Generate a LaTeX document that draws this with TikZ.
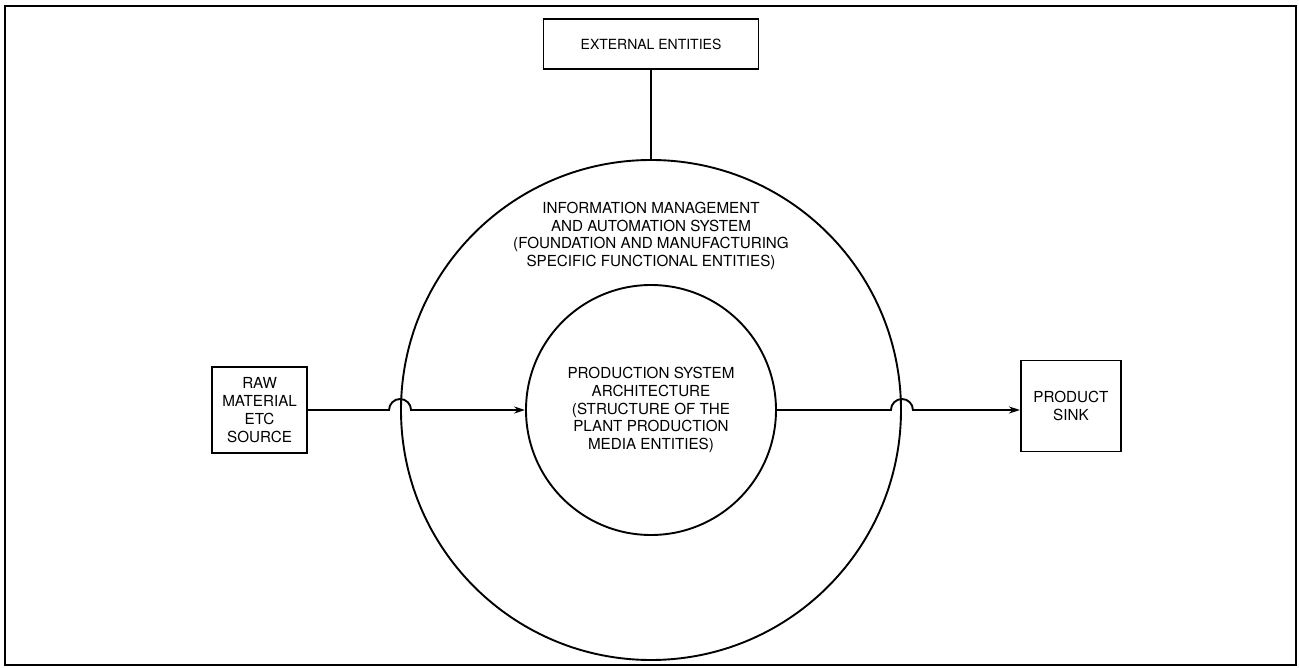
\documentclass[tikz,border=0pt]{standalone}
\usepackage{fontspec}
\setmainfont{TeX Gyre Heros}
\usetikzlibrary{positioning,arrows.meta}

\begin{document}
\begin{tikzpicture}[x=1pt, y=-1pt, line width=1.9pt,
        label/.style = {align=center, inner sep=0pt, font=\fontsize{15.2}{17.8}\selectfont},
        box/.style = {draw, label},
        ring/.style = {draw, circle, label},
        flow/.style = {-{Stealth[length=11pt, width=7pt]}}]
    \useasboundingbox (0,0) rectangle (1299,668);
    \draw[line width=2.6pt] (5,6) rectangle (1296,665);
    \node[ring, minimum size=500pt] (outer) at (651,410) {};
    \node[ring, minimum size=250pt] (inner) at (outer.center) {PRODUCTION SYSTEM\\ARCHITECTURE\\(STRUCTURE OF THE\\PLANT PRODUCTION\\MEDIA ENTITIES)};
    \node[label] (ims) at (651,236) {INFORMATION MANAGEMENT\\AND AUTOMATION SYSTEM\\(FOUNDATION AND MANUFACTURING\\SPECIFIC FUNCTIONAL ENTITIES)};
    \node[box, minimum width=215pt, minimum height=50pt, font=\fontsize{14}{16}\selectfont] (ext) [above=89pt of outer] {EXTERNAL ENTITIES};
    \node[box, minimum width=95pt, minimum height=86pt] (raw) [left=92pt of outer] {RAW\\MATERIAL\\ETC\\SOURCE};
    \node[box, minimum width=100pt, minimum height=91pt] (sink) [right=118pt of outer, yshift=4pt] {PRODUCT\\SINK};
    \draw (ext) -- (outer);
    \draw[flow] (raw) -- ([xshift=-11pt]outer.west) arc[start angle=180, end angle=0, radius=11pt] -- (inner);
    \draw[flow] (inner) -- ([xshift=-11pt]outer.east) arc[start angle=180, end angle=0, radius=11pt] -- (inner.center -| sink.west);
\end{tikzpicture}
\end{document}
